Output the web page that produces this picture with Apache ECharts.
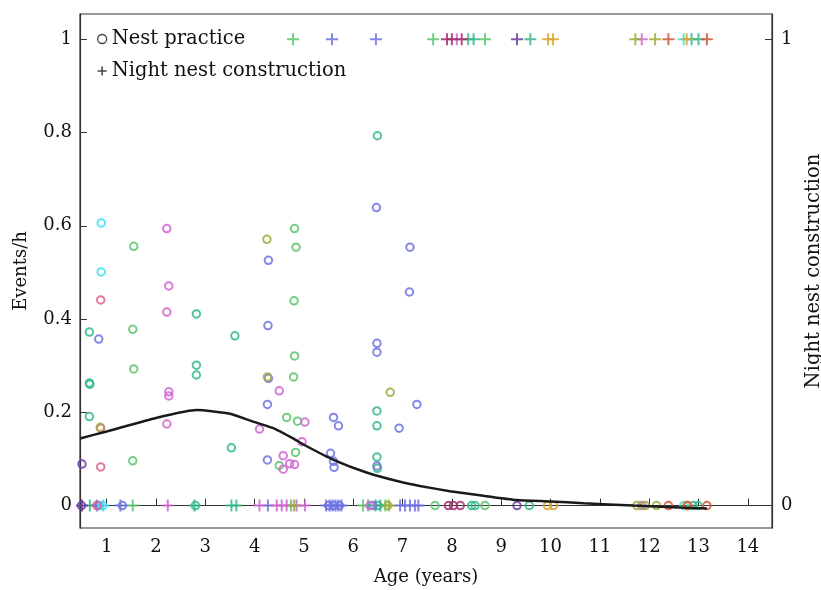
<!DOCTYPE html>
<html>
<head>
<meta charset="utf-8">
<script src="https://cdn.jsdelivr.net/npm/echarts@6/dist/echarts.min.js"></script>
<style>
  html, body { margin: 0; background: #fff; }
  #chart { width: 821px; height: 590px; }
</style>
</head>
<body>
<div id="chart"></div>
<script>
// nest practice rate (events/h) and night nest construction (0/1) by age, one pair of arrays per individual colour
const lightGreenPractice = [[1.55, 0.556], [1.53, 0.378], [1.55, 0.293], [1.53, 0.096], [4.81, 0.594], [4.84, 0.554], [4.80, 0.439], [4.81, 0.321], [4.79, 0.276], [4.65, 0.189], [4.87, 0.181], [4.83, 0.114], [4.50, 0.086], [7.66, 0], [8.67, 0]];
const lightGreenNight = [[1.53, 0], [4.74, 0], [6.20, 0], [6.30, 0], [6.65, 0], [4.78, 1], [7.62, 1], [8.67, 1]];

const tealPractice = [[0.65, 0.372], [0.65, 0.263], [0.66, 0.260], [0.65, 0.191], [2.82, 0.411], [2.82, 0.301], [2.82, 0.280], [3.60, 0.364], [3.53, 0.124], [6.49, 0.793], [6.48, 0.203], [6.48, 0.171], [6.48, 0.104], [6.49, 0.080], [2.80, 0], [6.50, 0], [8.40, 0], [8.47, 0], [9.57, 0], [12.89, 0], [12.99, 0]];
const tealNight = [[0.66, 0], [2.78, 0], [3.53, 0], [3.63, 0], [6.45, 0], [6.55, 0], [8.33, 1], [8.44, 1], [9.59, 1], [12.86, 1], [13.00, 1]];

const bluePractice = [[0.84, 0.357], [4.27, 0.386], [4.28, 0.526], [4.28, 0.273], [4.26, 0.217], [4.26, 0.098], [5.60, 0.189], [5.70, 0.171], [5.54, 0.112], [5.60, 0.095], [5.61, 0.082], [6.47, 0.639], [6.48, 0.348], [6.48, 0.329], [6.48, 0.085], [6.93, 0.166], [7.29, 0.217], [7.15, 0.554], [7.14, 0.458], [0.84, 0], [1.32, 0], [5.50, 0], [5.60, 0], [5.72, 0], [6.40, 0]];
const blueNight = [[0.80, 0], [1.28, 0], [4.27, 0], [5.45, 0], [5.52, 0], [5.58, 0], [5.64, 0], [5.70, 0], [5.76, 0], [6.95, 0], [7.05, 0], [7.15, 0], [7.25, 0], [7.32, 0], [5.57, 1], [6.46, 1]];

const magentaPractice = [[2.22, 0.594], [2.26, 0.471], [2.22, 0.415], [2.26, 0.244], [2.26, 0.235], [2.22, 0.175], [4.50, 0.246], [5.02, 0.179], [4.10, 0.164], [4.96, 0.137], [4.58, 0.107], [4.58, 0.078], [4.71, 0.090], [4.81, 0.088], [6.34, 0], [11.85, 0]];
const magentaNight = [[2.24, 0], [4.10, 0], [4.45, 0], [4.55, 0], [4.65, 0], [4.85, 0], [5.02, 0], [8.10, 1], [11.85, 1]];

const cyanPractice = [[0.89, 0.606], [0.89, 0.501], [0.92, 0], [12.70, 0]];
const cyanNight = [[0.93, 0], [12.70, 1]];

const rosePractice = [[0.88, 0.441], [0.88, 0.166], [0.88, 0.083], [0.80, 0]];
const roseNight = [];

const olivePractice = [[4.25, 0.571], [4.26, 0.276], [6.75, 0.243], [0.87, 0.168], [6.70, 0], [11.75, 0], [11.92, 0], [12.15, 0]];
const oliveNight = [[4.80, 0], [6.72, 0], [11.72, 1], [12.12, 1]];

const purplePractice = [[0.50, 0.089], [0.49, 0], [9.32, 0]];
const purpleNight = [[0.50, 0], [9.32, 1]];

const maroonPractice = [[7.93, 0], [8.03, 0], [8.17, 0]];
const maroonNight = [[7.90, 1], [8.00, 1], [8.20, 1]];

const orangePractice = [[9.94, 0], [10.06, 0], [12.76, 0]];
const orangeNight = [[9.95, 1], [10.05, 1], [12.76, 1]];

const redPractice = [[12.39, 0], [12.78, 0], [13.17, 0]];
const redNight = [[12.39, 1], [13.17, 1]];

// fitted curve
const trendAge = [0.46, 1, 2, 2.83, 3.5, 3.97, 4.38, 4.78, 4.99, 5.6, 6.27, 6.95, 7.35, 7.96, 8.64, 9.32, 10, 10.67, 11.68, 12.36, 13.17];
const trendRate = [0.144, 0.159, 0.188, 0.205, 0.197, 0.180, 0.166, 0.144, 0.131, 0.098, 0.071, 0.051, 0.042, 0.031, 0.021, 0.012, 0.009, 0.005, 0.000, -0.003, -0.006];

const ageTicks = [1, 2, 3, 4, 5, 6, 7, 8, 9, 10, 11, 12, 13, 14];
const rateTicks = [0, 0.2, 0.4, 0.6, 0.8, 1];
const nightTicks = [0, 1];

const groups = [
  { color: '#5cc46c', practice: lightGreenPractice, night: lightGreenNight },
  { color: '#36b98a', practice: tealPractice, night: tealNight },
  { color: '#7073e2', practice: bluePractice, night: blueNight },
  { color: '#d264d2', practice: magentaPractice, night: magentaNight },
  { color: '#3fdff0', practice: cyanPractice, night: cyanNight },
  { color: '#e2608c', practice: rosePractice, night: roseNight },
  { color: '#9fab3c', practice: olivePractice, night: oliveNight },
  { color: '#6a3f9e', practice: purplePractice, night: purpleNight },
  { color: '#a3306e', practice: maroonPractice, night: maroonNight },
  { color: '#dca52a', practice: orangePractice, night: orangeNight },
  { color: '#d6553a', practice: redPractice, night: redNight }
];

const plusPath = 'path://M5,0h2v5h5v2h-5v5h-2v-5h-5v-2h5z';
const font = 'DejaVu Serif';

const series = [];
groups.forEach((g, i) => {
  series.push({
    name: 'p' + i,
    type: 'scatter',
    yAxisIndex: 0,
    symbol: 'circle',
    symbolSize: 7.5,
    itemStyle: { color: 'rgba(255,255,255,0)', borderColor: g.color, borderWidth: 2, opacity: 0.85 },
    data: g.practice
  });
  series.push({
    name: 'n' + i,
    type: 'scatter',
    yAxisIndex: 1,
    symbol: plusPath,
    symbolSize: 12,
    itemStyle: { color: g.color, opacity: 0.85 },
    data: g.night
  });
});
series.push({
  type: 'line',
  data: trendAge.map((a, i) => [a, trendRate[i]]),
  smooth: 0.15,
  symbol: 'none',
  lineStyle: { color: '#1a1a1a', width: 2.5 },
  z: 5
});
// legend-only entries
series.push({ name: 'Nest practice', type: 'scatter', data: [] });
series.push({ name: 'Night nest construction', type: 'scatter', data: [] });

const chart = echarts.init(document.getElementById('chart'));
chart.setOption({
  animation: false,
  textStyle: { fontFamily: font },
  grid: { left: 80, right: 49, top: 14, bottom: 62, outerBoundsMode: 'none', show: true, borderColor: '#333', borderWidth: 1.2 },
  legend: {
    orient: 'vertical',
    left: 92,
    top: 24,
    itemWidth: 9,
    itemHeight: 9,
    itemGap: 12,
    textStyle: { fontFamily: font, fontSize: 19.5, color: '#111' },
    data: [
      { name: 'Nest practice', icon: 'circle', itemStyle: { color: 'rgba(255,255,255,0)', borderColor: '#111', borderWidth: 1.3 } },
      { name: 'Night nest construction', icon: plusPath, itemStyle: { color: '#111', borderWidth: 0 } }
    ]
  },
  xAxis: {
    type: 'value',
    min: 0.46,
    max: 14.49,
    name: 'Age (years)',
    nameLocation: 'middle',
    nameGap: 40,
    nameTextStyle: { fontFamily: font, fontSize: 18, color: '#111' },
    axisLine: { lineStyle: { color: '#333', width: 1.2 } },
    axisTick: { inside: true, length: 7, lineStyle: { color: '#333' }, customValues: ageTicks },
    axisLabel: { fontSize: 18, color: '#111', margin: 10, customValues: ageTicks },
    splitLine: { show: false }
  },
  yAxis: [
    {
      type: 'value',
      min: -0.048,
      max: 1.054,
      name: 'Events/h',
      nameLocation: 'middle',
      nameGap: 50,
      nameTextStyle: { fontFamily: font, fontSize: 18, color: '#111' },
      axisLine: { show: true, lineStyle: { color: '#333', width: 1.2 } },
      axisTick: { show: true, inside: true, length: 7, lineStyle: { color: '#333' }, customValues: rateTicks },
      axisLabel: { fontSize: 18, color: '#111', margin: 8, customValues: rateTicks, formatter: v => String(+v.toFixed(1)) },
      splitLine: { show: false }
    },
    {
      type: 'value',
      position: 'right',
      min: -0.048,
      max: 1.054,
      name: 'Night nest construction',
      nameLocation: 'middle',
      nameGap: 32,
      nameRotate: 90,
      nameTextStyle: { fontFamily: font, fontSize: 19.5, color: '#111' },
      axisLine: { show: true, lineStyle: { color: '#333', width: 1.2 } },
      axisTick: { show: true, inside: true, length: 7, lineStyle: { color: '#333' }, customValues: nightTicks },
      axisLabel: { fontSize: 18, color: '#111', margin: 9, customValues: nightTicks },
      splitLine: { show: false }
    }
  ],
  series: series
});
</script>
</body>
</html>
